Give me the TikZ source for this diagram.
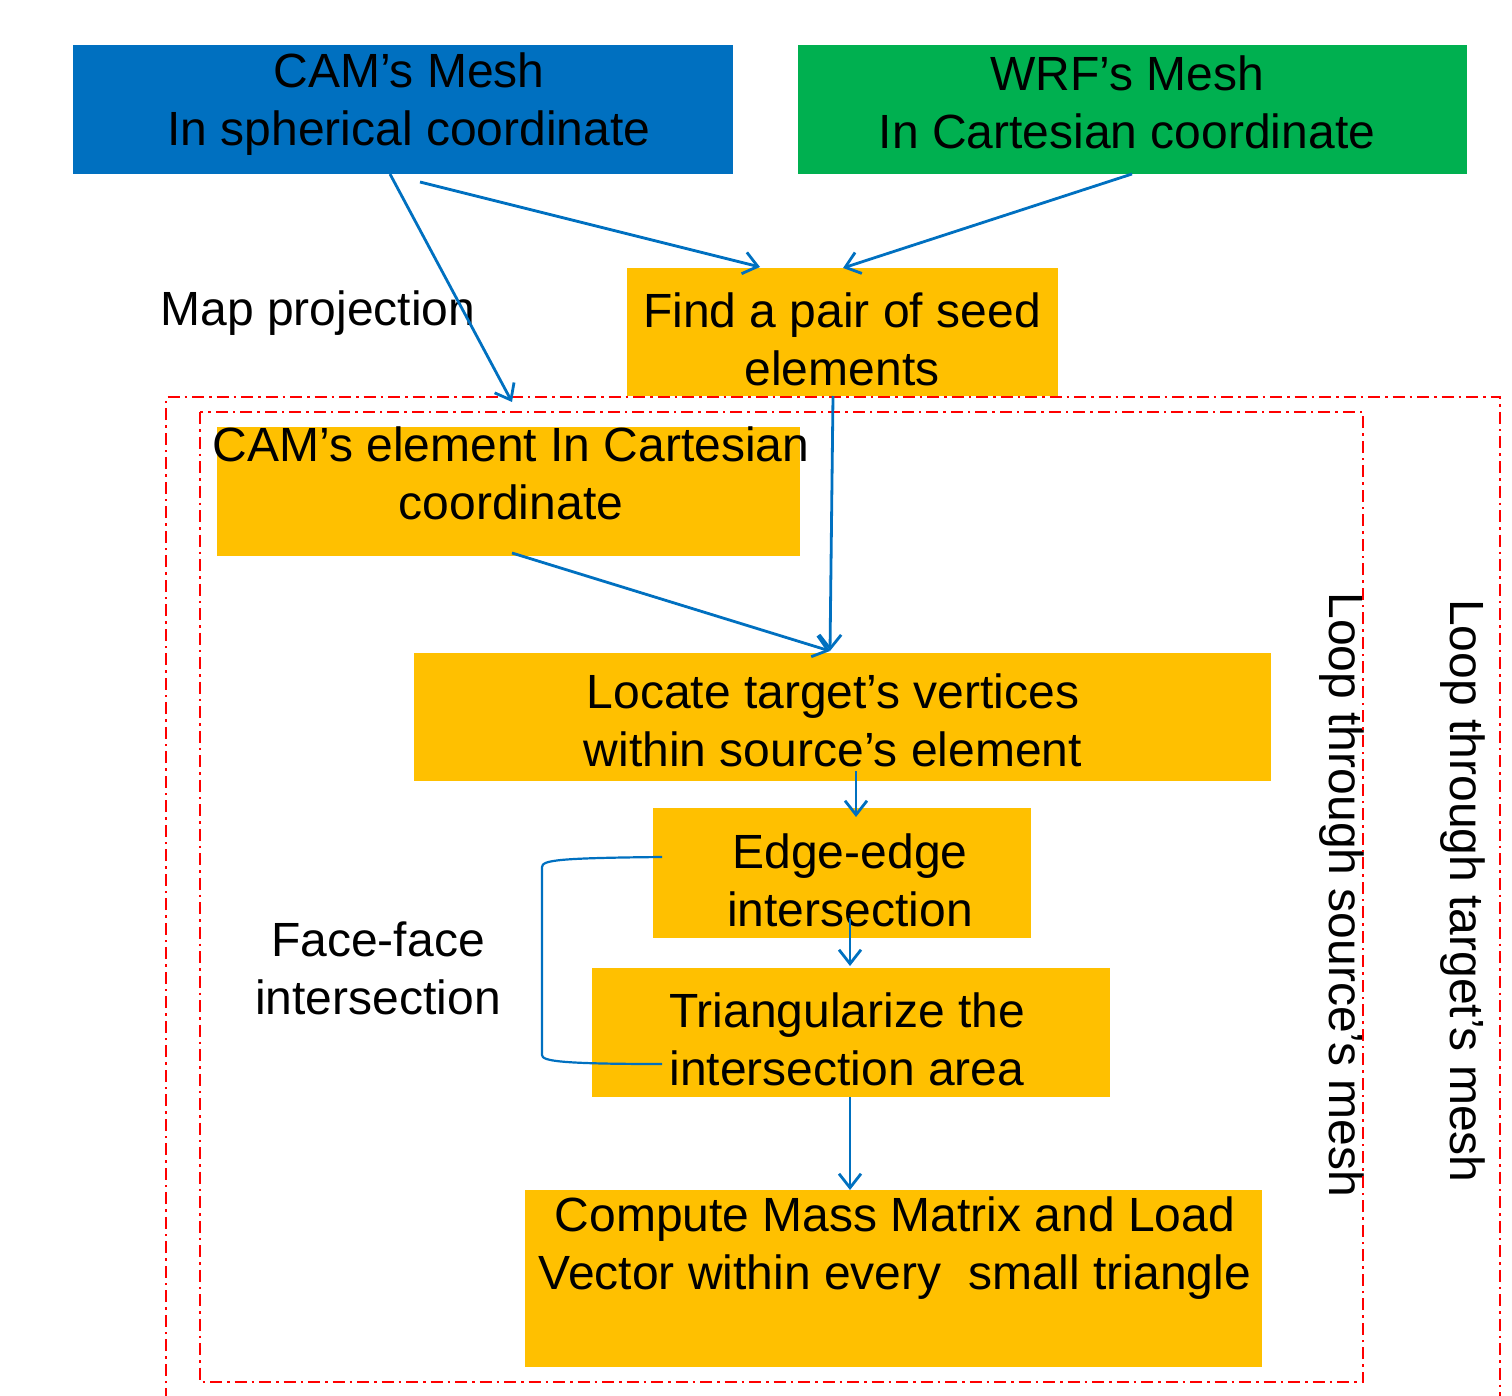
\documentclass[tikz,border=0pt]{standalone}
\usepackage{fontspec}
\setmainfont{Liberation Sans}
\usetikzlibrary{arrows.meta,calc}
\definecolor{camblue}{HTML}{0070C0}
\definecolor{wrfgreen}{HTML}{00B050}
\definecolor{gold}{HTML}{FFC000}
\begin{document}
\begin{tikzpicture}[x=1pt,y=-1pt,
  boxnode/.style={inner sep=0pt,outer sep=0pt},
  txt/.style={inner sep=0pt,align=center,font=\fontsize{48}{58}\selectfont},
  conn/.style={draw=camblue,line width=2.8pt,-{Straight Barb[length=14pt,width=22pt,line width=2.8pt]}},
  frame/.style={draw=red,line width=2pt,dash pattern=on 12pt off 5pt on 2.5pt off 5pt}]
\useasboundingbox (0,0) rectangle (1512,1396);
% boxes
\node[boxnode,fill=camblue,minimum width=660,minimum height=129] (cam) at (403,109.5) {};
\node[boxnode,fill=wrfgreen,minimum width=669,minimum height=129] (wrf) at (1132.5,109.5) {};
\node[boxnode,fill=gold,minimum width=431,minimum height=128] (seed) at (842.5,332) {};
\node[boxnode,fill=gold,minimum width=583,minimum height=129] (camel) at (508.5,491.5) {};
\node[boxnode,fill=gold,minimum width=857,minimum height=128] (locate) at (842.5,717) {};
\node[boxnode,fill=gold,minimum width=378,minimum height=130] (edge) at (842,873) {};
\node[boxnode,fill=gold,minimum width=518,minimum height=129] (tri) at (851,1032.5) {};
\node[boxnode,fill=gold,minimum width=737,minimum height=177] (comp) at (893.5,1278.5) {};
% texts
\node[txt] (camT) at (409,104) {CAM’s Mesh\\In spherical coordinate};
\node[txt] (wrfT) at (1127,102) {WRF’s Mesh\\In Cartesian coordinate};
\node[txt] (seedT) at (842,339) {Find a pair of seed\\elements};
\node[txt] (camelT) at (511,473) {CAM’s element In Cartesian\\coordinate};
\node[txt] (locT) at (833,720) {Locate target’s vertices\\within source’s element};
\node[txt] (edgeT) at (850,880) {Edge-edge\\intersection};
\node[txt] (triT) at (847,1039) {Triangularize the\\intersection area};
\node[txt] (compT) at (895,1248) {Compute Mass Matrix and Load\\Vector within every\ \ small triangle};
\node[txt] (mapT) at (318,313) {Map projection};
\node[txt] (faceT) at (378,968) {Face-face\\intersection};
\node[txt,rotate=-90] (srcT) at (1342,895) {Loop through source’s mesh};
\node[txt,rotate=-90] (tgtT) at (1463,891) {Loop through target’s mesh};
% frames
\draw[frame] (166,1400) -- (166,397) -- (1500,397) -- (1500,1400);
\draw[frame] (200,412) rectangle (1363,1382);
% connectors
\coordinate (mpend) at (512,402);
\draw[conn] ($(cam.south west)+(317,0)$) -- (mpend);
\draw[conn] ($(cam.south west)+(347,8)$) -- ($(seed.north west)+(133,-1)$);
\draw[conn] ($(wrf.south west)+(334,0)$) -- ($(seed.north west)+(216,0)$);
\draw[conn] ($(seed.south west)+(206,0)$) -- ($(locate.north west)+(416,-2)$);
\draw[conn] ($(camel.south west)+(295,-3)$) -- ($(locate.north west)+(416,-2)$);
\draw[conn] ($(locate.south west)+(442,-10)$) -- ($(edge.north west)+(203,9)$);
\draw[conn] ($(edge.south west)+(197,-20)$) -- ($(tri.north west)+(258,-2)$);
\draw[conn] ($(tri.south west)+(258,0)$) -- ($(comp.north west)+(325,0)$);
\draw[draw=camblue,line width=2.2pt] ($(edge.west)+(9,-16)$) .. controls (560,858) and (542,860) .. (542,867) -- (542,1055) .. controls (542,1061) and (560,1064) .. ($(tri.west)+(70,31.5)$);
\end{tikzpicture}
\end{document}
